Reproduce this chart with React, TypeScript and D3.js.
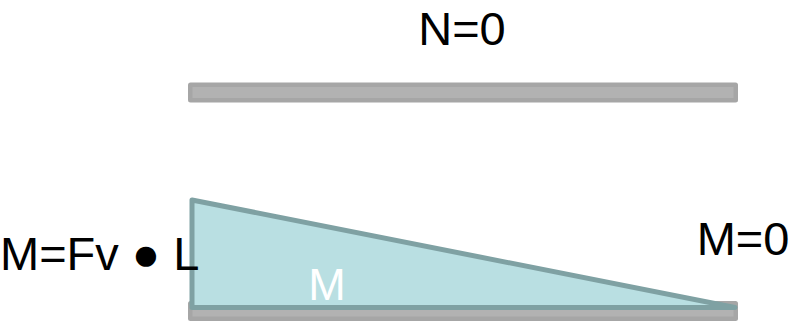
import React from "react";
import * as d3 from "d3";

const positions = [0, 1];
const moments = [1, 0];
const beamLabels = ["N=0"];
const momentLabels = ["M=Fv ● L", "M=0"];
const areaLabel = "M";

const W = 795;
const H = 321;

export default function App() {
  const x = d3.scaleLinear().domain([0, 1]).range([192, 735]);
  const y = d3.scaleLinear().domain([0, 1]).range([307.5, 200]);
  const pts: [number, number][] = positions.map((p, i) => [x(p), y(moments[i])]);
  const area = d3
    .area<[number, number]>()
    .x((d) => d[0])
    .y0(y(0))
    .y1((d) => d[1]);
  const path = area(pts) + "";
  const font = "'Liberation Sans', Arial, Helvetica, sans-serif";
  const bar = (top: number) => (
    <g>
      <rect x={188} y={top} width={550} height={20} rx={2.5} fill="#a6a6a6" />
      <rect x={192.5} y={top + 4.5} width={541} height={11} fill="#b2b2b2" />
    </g>
  );
  return (
    <svg
      width={W}
      height={H}
      style={{ position: "absolute", left: 0, top: 0, background: "#fff" }}
    >
      {bar(82.5)}
      {bar(301)}
      <path
        d={path + "Z"}
        fill="#b9dfe2"
        stroke="#7fa1a3"
        strokeWidth={5}
        strokeLinejoin="round"
      />
      <text x={462} y={45} fontFamily={font} fontSize={47} textAnchor="middle" fill="#000">
        {beamLabels[0]}
      </text>
      <text x={0} y={270} fontFamily={font} fontSize={47} fill="#000">
        {momentLabels[0]}
      </text>
      <text x={743} y={255} fontFamily={font} fontSize={47} textAnchor="middle" fill="#000">
        {momentLabels[1]}
      </text>
      <text x={327} y={300} fontFamily={font} fontSize={45} textAnchor="middle" fill="#fff">
        {areaLabel}
      </text>
    </svg>
  );
}
